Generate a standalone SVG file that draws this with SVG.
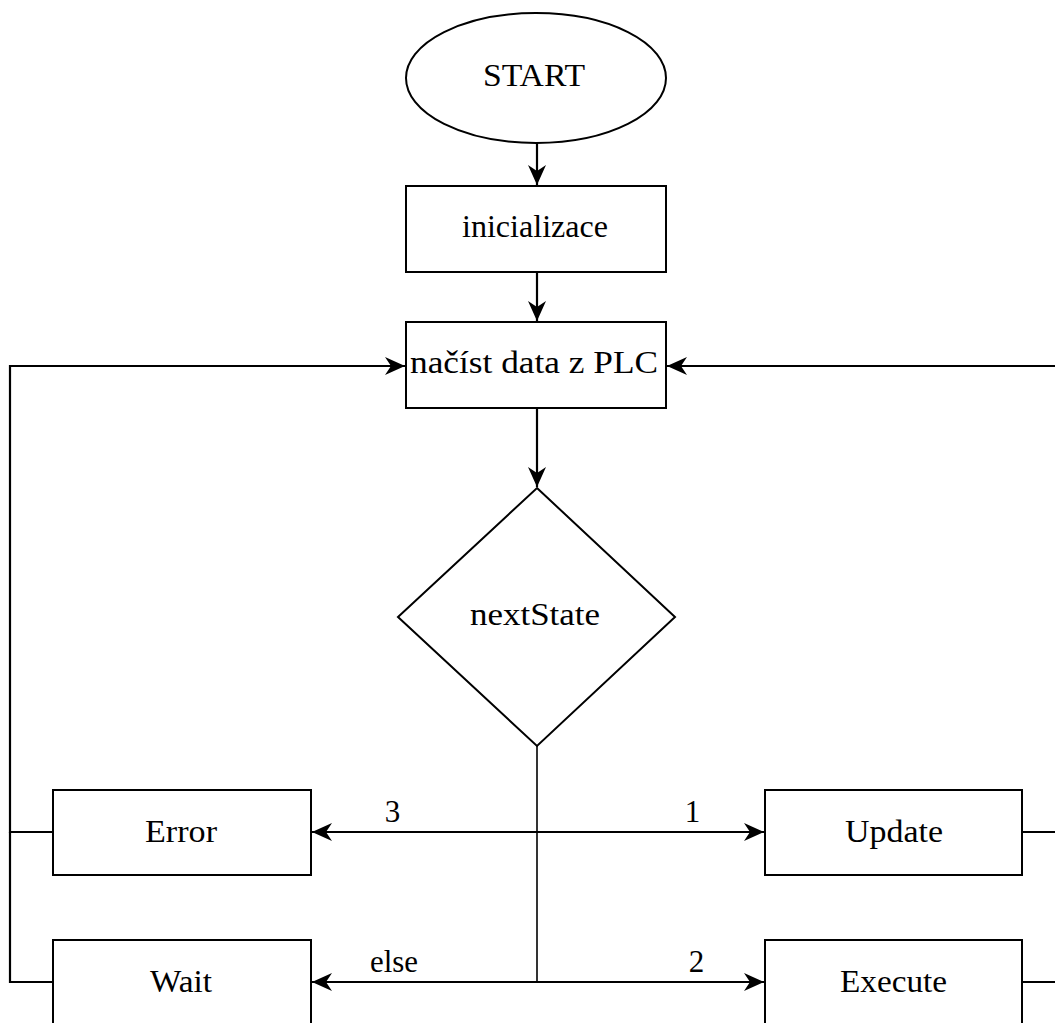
<svg xmlns="http://www.w3.org/2000/svg" width="1055" height="1023" viewBox="0 0 1055 1023">
<style>
.shape{fill:#fff;stroke:#000;stroke-width:2}
.lbl{font-family:"Liberation Serif","DejaVu Serif",serif;font-size:31px;fill:#000}
.edge{fill:none;stroke:#000;stroke-width:2.2}
.thin{fill:none;stroke:#000;stroke-width:1.6}
</style>
<defs>
<marker id="arr" markerUnits="userSpaceOnUse" markerWidth="26" markerHeight="22" viewBox="-22 -11 26 22" refX="0" refY="0" orient="auto">
<path d="M0,0 L-20,-9 L-14,0 L-20,9 Z" fill="#000"/>
</marker>
</defs>
<rect width="1055" height="1023" fill="#fff"/>
<g id="connectors">
<line class="edge" x1="537" y1="143" x2="537" y2="185" marker-end="url(#arr)"/>
<line class="edge" x1="537" y1="272" x2="537" y2="321" marker-end="url(#arr)"/>
<line class="edge" x1="537" y1="409" x2="537" y2="487" marker-end="url(#arr)"/>
<line class="thin" x1="537" y1="746" x2="537" y2="982"/>
<line class="edge" x1="537" y1="832" x2="312" y2="832" marker-end="url(#arr)"/>
<line class="edge" x1="537" y1="832" x2="764" y2="832" marker-end="url(#arr)"/>
<line class="edge" x1="537" y1="982" x2="312" y2="982" marker-end="url(#arr)"/>
<line class="edge" x1="537" y1="982" x2="764" y2="982" marker-end="url(#arr)"/>
<polyline class="edge" points="53,832 10,832 10,366 405,366" marker-end="url(#arr)"/>
<polyline class="edge" points="53,982 10,982 10,832"/>
<line class="edge" x1="1023" y1="832" x2="1060" y2="832"/>
<line class="edge" x1="1023" y1="982" x2="1060" y2="982"/>
<line class="edge" x1="1060" y1="366" x2="667" y2="366" marker-end="url(#arr)"/>
<text class="lbl" x="392.5" y="822" text-anchor="middle">3</text>
<text class="lbl" x="692.5" y="822" text-anchor="middle">1</text>
<text class="lbl" x="370" y="972" textLength="48" lengthAdjust="spacingAndGlyphs">else</text>
<text class="lbl" x="696.5" y="972" text-anchor="middle">2</text>
</g>
<g id="start">
<ellipse class="shape" cx="536" cy="78" rx="130" ry="65"/>
<text class="lbl" x="483" y="86" textLength="102" lengthAdjust="spacingAndGlyphs">START</text>
</g>
<g id="inicializace">
<rect class="shape" x="406" y="186" width="260" height="86"/>
<text class="lbl" x="462" y="237" textLength="146" lengthAdjust="spacingAndGlyphs">inicializace</text>
</g>
<g id="nacist">
<rect class="shape" x="406" y="322" width="260" height="86"/>
<text class="lbl" x="410" y="373" textLength="248" lengthAdjust="spacingAndGlyphs">načíst data z PLC</text>
</g>
<g id="nextState">
<polygon class="shape" points="537,488 675,617 537,746 398,617"/>
<text class="lbl" x="470" y="625" textLength="130" lengthAdjust="spacingAndGlyphs">nextState</text>
</g>
<g id="error">
<rect class="shape" x="53" y="790" width="258" height="85"/>
<text class="lbl" x="145" y="842" textLength="72" lengthAdjust="spacingAndGlyphs">Error</text>
</g>
<g id="update">
<rect class="shape" x="765" y="790" width="257" height="85"/>
<text class="lbl" x="845" y="842" textLength="98" lengthAdjust="spacingAndGlyphs">Update</text>
</g>
<g id="wait">
<rect class="shape" x="53" y="940" width="258" height="100"/>
<text class="lbl" x="150" y="992" textLength="62" lengthAdjust="spacingAndGlyphs">Wait</text>
</g>
<g id="execute">
<rect class="shape" x="765" y="940" width="257" height="100"/>
<text class="lbl" x="840" y="992" textLength="107" lengthAdjust="spacingAndGlyphs">Execute</text>
</g>
</svg>
